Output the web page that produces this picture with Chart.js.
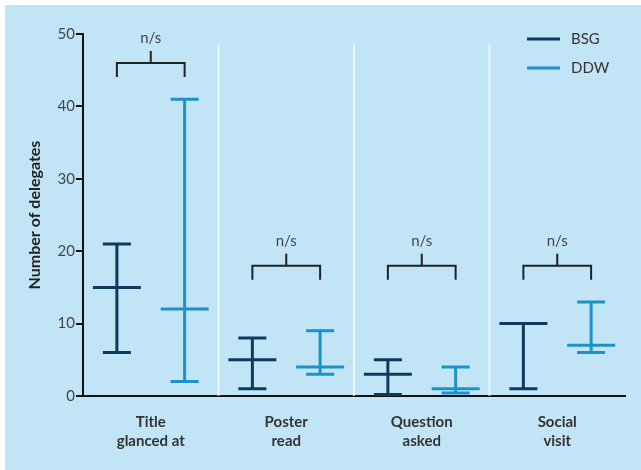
<!DOCTYPE html>
<html>
<head>
<meta charset="utf-8">
<script src="https://cdn.jsdelivr.net/npm/chart.js@4"></script>
<style>
  html, body { margin: 0; padding: 0; background: #fff; }
  #wrap { position: absolute; left: 5px; top: 5px; width: 636px; height: 465px; background: #c1e5f7; }
  #cv { position: absolute; left: 0; top: 0; }
</style>
</head>
<body>
<div id="wrap"></div>
<canvas id="cv" width="641" height="470"></canvas>
<script>
// categories and series (median with min-max range)
var categories = [['Title', 'glanced at'], ['Poster', 'read'], ['Question', 'asked'], ['Social', 'visit']];
var bsgMin = [6, 1, 0.2, 1];
var bsgMed = [15, 5, 3, 10];
var bsgMax = [21, 8, 5, 10];
var ddwMin = [2, 3, 0.4, 6];
var ddwMed = [12, 4, 1, 7];
var ddwMax = [41, 9, 4, 13];
// significance brackets: height of bar (value units)
var bracketY = [46, 18, 18, 18];
var bracketText = ['n/s', 'n/s', 'n/s', 'n/s'];
var yTicks = [0, 10, 20, 30, 40, 50];

var BSG_COL = '#0f3a5f';
var DDW_COL = '#1b93c9';
var FONT = 'Lato, "Open Sans", sans-serif';

function zip(a, b) {
  return a.map(function (v, i) { return [v, b[i]]; });
}

// draws whiskers, median lines, brackets, separators and legend
var rangePlot = {
  id: 'rangePlot',
  beforeDatasetsDraw: function (chart) {
    var ctx = chart.ctx, x = chart.scales.x, y = chart.scales.y;
    ctx.save();
    ctx.strokeStyle = 'rgba(255,255,255,0.7)';
    ctx.lineWidth = 2;
    for (var i = 1; i < categories.length; i++) {
      var px = (x.getPixelForValue(i - 1) + x.getPixelForValue(i)) / 2;
      ctx.beginPath();
      ctx.moveTo(px, y.getPixelForValue(48.5));
      ctx.lineTo(px, y.getPixelForValue(0));
      ctx.stroke();
    }
    ctx.restore();
  },
  afterDatasetsDraw: function (chart) {
    var ctx = chart.ctx, y = chart.scales.y;
    var sets = [[bsgMin, bsgMed, bsgMax], [ddwMin, ddwMed, ddwMax]];
    ctx.save();
    ctx.lineWidth = 3;
    sets.forEach(function (s, di) {
      var meta = chart.getDatasetMeta(di);
      ctx.strokeStyle = chart.data.datasets[di].borderColor;
      meta.data.forEach(function (bar, i) {
        var cx = bar.x;
        var lo = y.getPixelForValue(s[0][i]);
        var md = y.getPixelForValue(s[1][i]);
        var hi = y.getPixelForValue(s[2][i]);
        ctx.beginPath();
        ctx.moveTo(cx, lo); ctx.lineTo(cx, hi);
        ctx.moveTo(cx - 14, lo); ctx.lineTo(cx + 14, lo);
        ctx.moveTo(cx - 14, hi); ctx.lineTo(cx + 14, hi);
        ctx.moveTo(cx - 24, md); ctx.lineTo(cx + 24, md);
        ctx.stroke();
      });
    });
    // brackets
    var m0 = chart.getDatasetMeta(0), m1 = chart.getDatasetMeta(1);
    ctx.strokeStyle = '#222';
    ctx.lineWidth = 2;
    ctx.fillStyle = '#444';
    ctx.font = '15px ' + FONT;
    ctx.textAlign = 'center';
    ctx.textBaseline = 'middle';
    bracketY.forEach(function (v, i) {
      var x0 = m0.data[i].x, x1 = m1.data[i].x, xm = (x0 + x1) / 2;
      var by = y.getPixelForValue(v);
      ctx.beginPath();
      ctx.moveTo(x0, by + 14); ctx.lineTo(x0, by); ctx.lineTo(x1, by); ctx.lineTo(x1, by + 14);
      ctx.moveTo(xm, by); ctx.lineTo(xm, by - 12);
      ctx.stroke();
      ctx.fillText(bracketText[i], xm, by - 25);
    });
    // legend
    var ca = chart.chartArea;
    var names = chart.data.datasets.map(function (d) { return d.label; });
    ctx.textAlign = 'left';
    ctx.font = '15px ' + FONT;
    names.forEach(function (n, i) {
      var ly = ca.top + 5 + i * 29;
      ctx.strokeStyle = chart.data.datasets[i].borderColor;
      ctx.lineWidth = 3;
      ctx.beginPath();
      ctx.moveTo(527, ly); ctx.lineTo(560, ly);
      ctx.stroke();
      ctx.fillStyle = '#333';
      ctx.fillText(n, 571, ly);
    });
    ctx.restore();
  }
};

new Chart(document.getElementById('cv'), {
  type: 'bar',
  data: {
    labels: categories,
    datasets: [
      { label: 'BSG', data: zip(bsgMin, bsgMax), backgroundColor: 'rgba(0,0,0,0)', borderColor: BSG_COL, borderWidth: 0 },
      { label: 'DDW', data: zip(ddwMin, ddwMax), backgroundColor: 'rgba(0,0,0,0)', borderColor: DDW_COL, borderWidth: 0 }
    ]
  },
  options: {
    responsive: false,
    animation: false,
    events: [],
    categoryPercentage: 1,
    barPercentage: 1,
    layout: { padding: { left: 5, right: 16, top: 34, bottom: 0 } },
    plugins: { legend: { display: false }, tooltip: { enabled: false } },
    scales: {
      x: {
        grid: { display: false, drawTicks: false },
        border: { color: '#111', width: 2 },
        ticks: { color: '#333', padding: 16, font: { family: FONT, size: 15, weight: 'bold', lineHeight: 1.3 } },
        afterFit: function (s) { s.height = 74; }
      },
      y: {
        min: 0, max: 50,
        afterBuildTicks: function (s) { s.ticks = yTicks.map(function (v) { return { value: v }; }); },
        grid: { display: true, drawOnChartArea: false, tickLength: 7, color: '#111', lineWidth: 2 },
        border: { color: '#111', width: 2 },
        ticks: { color: '#444', padding: 1, font: { family: FONT, size: 15 } },
        title: { display: true, text: 'Number of delegates', color: '#222', padding: { top: 20, bottom: 0 }, font: { family: FONT, size: 16, weight: 'bold' } },
        afterFit: function (s) { s.width = 78; }
      }
    }
  },
  plugins: [rangePlot]
});
</script>
</body>
</html>
